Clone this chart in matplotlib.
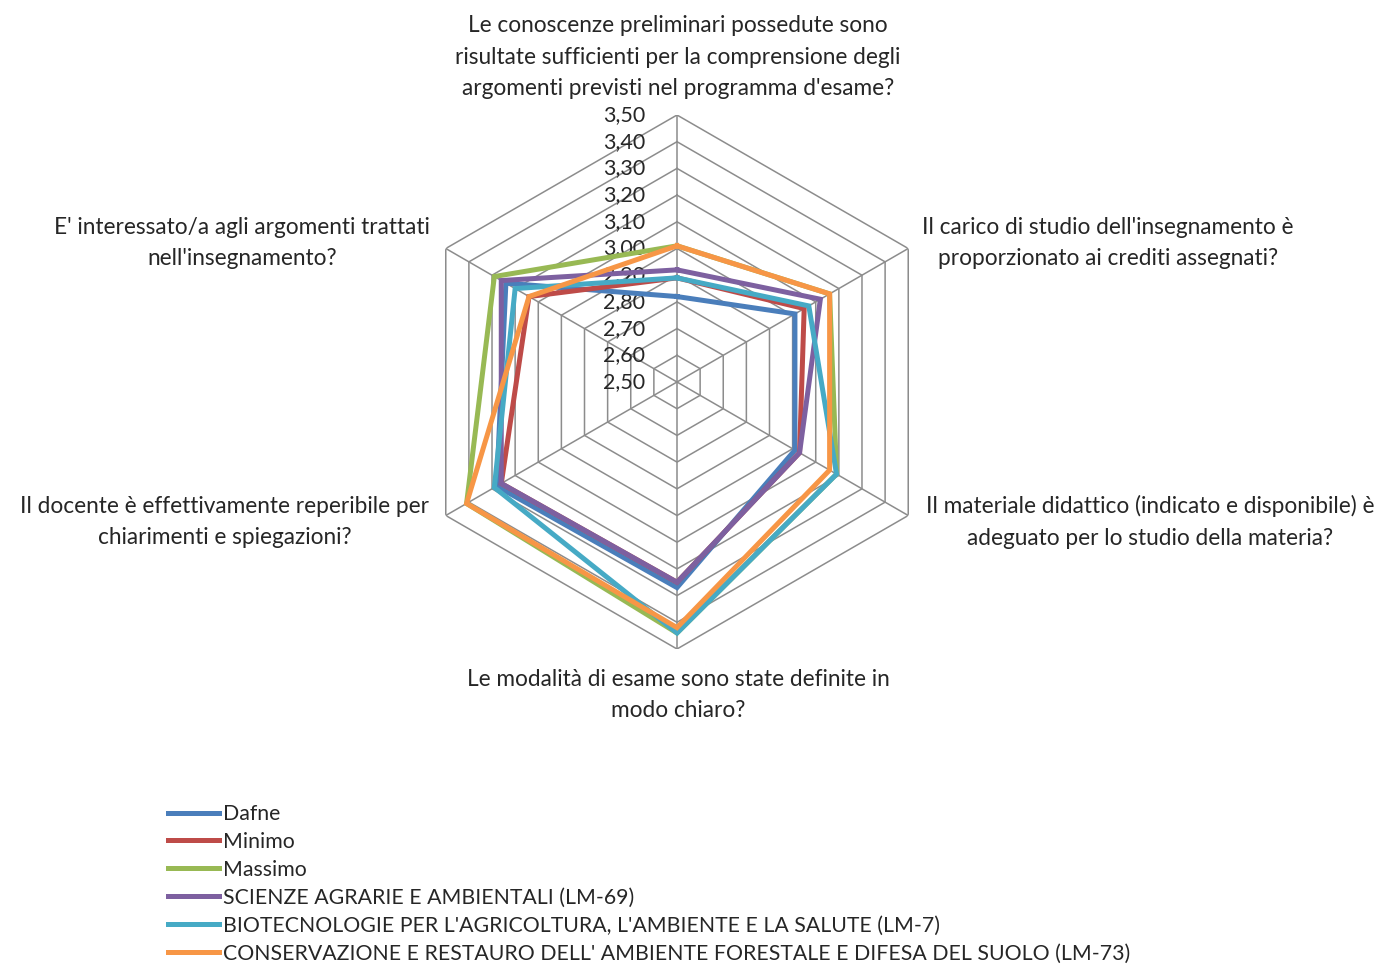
import numpy as np
import matplotlib
matplotlib.use("Agg")
import matplotlib.pyplot as plt
from matplotlib.lines import Line2D
from matplotlib.transforms import offset_copy

categories = [
    "Le conoscenze preliminari possedute sono\nrisultate sufficienti per la comprensione degli\nargomenti previsti nel programma d'esame?",
    "Il carico di studio dell'insegnamento è\nproporzionato ai crediti assegnati?",
    "Il materiale didattico (indicato e disponibile) è\nadeguato per lo studio della materia?",
    "Le modalità di esame sono state definite in\nmodo chiaro?",
    "Il docente è effettivamente reperibile per\nchiarimenti e spiegazioni?",
    "E' interessato/a agli argomenti trattati\nnell'insegnamento?",
]

series_names = [
    "Dafne",
    "Minimo",
    "Massimo",
    "SCIENZE AGRARIE E AMBIENTALI (LM-69)",
    "BIOTECNOLOGIE PER L'AGRICOLTURA, L'AMBIENTE E LA SALUTE (LM-7)",
    "CONSERVAZIONE E RESTAURO DELL' AMBIENTE FORESTALE E DIFESA DEL SUOLO (LM-73)",
]

dafne = [2.82, 3.01, 3.01, 3.27, 3.28, 3.24]
minimo = [2.89, 3.05, 3.03, 3.25, 3.26, 3.14]
massimo = [3.01, 3.16, 3.19, 3.44, 3.41, 3.29]
lm69 = [2.92, 3.12, 3.03, 3.25, 3.26, 3.26]
lm7 = [2.89, 3.07, 3.19, 3.44, 3.29, 3.20]
lm73 = [3.01, 3.16, 3.16, 3.42, 3.41, 3.14]

tick_values = [2.50, 2.60, 2.70, 2.80, 2.90, 3.00, 3.10, 3.20, 3.30, 3.40, 3.50]
tick_labels = ["2,50", "2,60", "2,70", "2,80", "2,90", "3,00", "3,10", "3,20", "3,30", "3,40", "3,50"]

colors = ["#4A7EBB", "#BE4B48", "#98B954", "#7D60A0", "#46AAC5", "#F79646"]

FONT = "Lato"
FS_CAT = 16.3
FS_TICK = 15.5
FS_LEG = 15.3
TXT = "#262626"

W, H = 1386, 965
fig = plt.figure(figsize=(W / 100, H / 100), dpi=100)
fig.patch.set_facecolor("white")

cx, cy, R = 677, 382, 267
ax = fig.add_axes([(cx - R) / W, (H - cy - R) / H, 2 * R / W, 2 * R / H], projection="polar")
ax.set_theta_zero_location("N")
ax.set_theta_direction(-1)
ax.set_ylim(tick_values[0], tick_values[-1])
ax.grid(False)
ax.spines["polar"].set_visible(False)
ax.set_xticks([])
ax.set_yticks([])
ax.patch.set_alpha(0)

n = len(categories)
angles = np.arange(n) * 2 * np.pi / n
closed = np.append(angles, angles[0])

grid_color = "#8C8C8C"
for v in tick_values[1:]:
    ax.plot(closed, [v] * (n + 1), color=grid_color, lw=1.1, zorder=1)
for a in angles:
    ax.plot([a, a], [tick_values[0], tick_values[-1]], color=grid_color, lw=1.1, zorder=1)

all_series = [dafne, minimo, massimo, lm69, lm7, lm73]
for i, (vals, c) in enumerate(zip(all_series, colors)):
    ax.plot(closed, list(vals) + [vals[0]], color=c, lw=3.6, zorder=3 + i,
            solid_joinstyle="miter")

tr = offset_copy(ax.transData, fig=fig, x=-32, y=0, units="dots")
for v, lab in zip(tick_values, tick_labels):
    ax.text(0, v, lab, transform=tr, ha="right", va="center",
            fontsize=FS_TICK, family=FONT, color=TXT, zorder=2)

label_pos = [(678, 57), (1108, 243), (1150, 522), (678, 695), (225, 522), (242, 243)]
for txt, (px, py) in zip(categories, label_pos):
    fig.text(px / W, 1 - py / H, txt, ha="center", va="center", fontsize=FS_CAT,
             family=FONT, color=TXT, linespacing=1.62)

handles = [Line2D([0], [0], color=c, lw=3.6) for c in colors]
leg = fig.legend(handles, series_names, loc="upper left",
                 bbox_to_anchor=(168 / W, 1 - 804 / H), frameon=False,
                 prop={"family": FONT, "size": FS_LEG}, handlelength=2.4,
                 handletextpad=0.2, labelspacing=0.373, borderaxespad=0,
                 borderpad=0)
for t in leg.get_texts():
    t.set_color(TXT)

fig.savefig("out.png", dpi=100, facecolor="white")
